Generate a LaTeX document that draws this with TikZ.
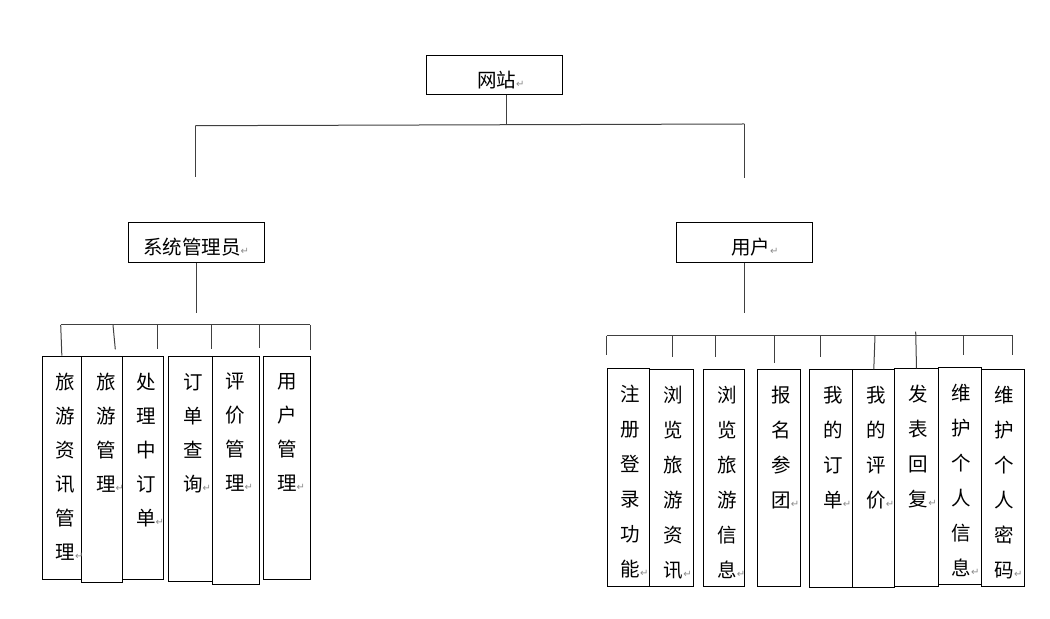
\documentclass[tikz,border=0pt]{standalone}
\usepackage{fontspec}
\usepackage{xcolor}
\usepackage{tikz}
\newfontfamily\cjk{Noto Sans CJK SC}
\newfontfamily\dejavu{DejaVu Sans}
\newcommand{\retmark}{{\dejavu\fontsize{5}{5}\selectfont\color{black!45}↵}}

\begin{document}
\begin{tikzpicture}[
            x = 0.5pt, y = -0.5pt, % one unit = one pixel, y goes down
            line width = 0.5pt, % thin lines
            mid/.style = {draw, inner sep=0pt, minimum width=68pt, minimum height=20pt,
                          text height=12pt, text depth=0pt, font=\cjk\fontsize{9.75}{12}\selectfont},
            leaf/.style = {draw, inner sep=0pt, anchor=north west},
            vlabel/.style = {inner sep=0pt, anchor=north west, align=left,
                             font=\cjk\fontsize{9.75}{#1}\selectfont},
            link/.style = {draw=black!75}
        ]
\useasboundingbox (0,0) rectangle (1050,619);

% top levels
\node[mid, minimum height=19.5pt] (site) at (494.7,75.5) {\hspace{6pt}网站\retmark};
\node[mid] (admin) at (196.15,242.3) {系统管理员\retmark};
\node[mid] (user) at (744.85,242.3) {\hspace{10pt}用户\retmark};

\coordinate (sb) at (506.7,125);
\coordinate (tl) at (195.3,125.7);
\coordinate (tr) at (744.3,124);
\coordinate (tlb) at (195.3,177.3);
\coordinate (trb) at (744.3,177.7);
\coordinate (ab) at (196.15,313);
\coordinate (ub) at (744.85,313);

 \path [link] (sb |- site.south) edge (sb);
 \path [link] (tl) edge (tr);
 \path [link] (tl) edge (tlb);
 \path [link] (tr) edge (trb);
 \path [link] (admin) edge (ab);
 \path [link] (user) edge (ub);

% admin side
\node[leaf, minimum width=19.65pt, minimum height=111.65pt] (a1) at (41.7,355.7) {};
\node[leaf, minimum width=20.5pt, minimum height=113pt] (a2) at (81,355.7) {};
\node[leaf, minimum width=20.5pt, minimum height=111.65pt] (a3) at (122,355.7) {};
\node[leaf, minimum width=22pt, minimum height=112.5pt] (a4) at (168,355.7) {};
\node[leaf, minimum width=23.5pt, minimum height=114.15pt] (a5) at (212,355.7) {};
\node[leaf, minimum width=23.5pt, minimum height=111.65pt] (a6) at (263,355.7) {};

\node[vlabel=17pt] (a1t) at ([shift={(13.5,17)}]a1.north west) {旅\\游\\资\\讯\\管\\理\retmark};
\node[vlabel=17pt] (a2t) at ([shift={(14.5,17)}]a2.north west) {旅\\游\\管\\理\retmark};
\node[vlabel=17pt] (a3t) at ([shift={(13.5,17)}]a3.north west) {处\\理\\中\\订\\单\retmark};
\node[vlabel=17pt] (a4t) at ([shift={(14.5,17)}]a4.north west) {订\\单\\查\\询\retmark};
\node[vlabel=17pt] (a5t) at ([shift={(12.5,17)}]a5.north west) {评\\价\\管\\理\retmark};
\node[vlabel=17pt] (a6t) at ([shift={(13.5,17)}]a6.north west) {用\\户\\管\\理\retmark};

\coordinate (lt1) at (60.7,325);
\coordinate (lt2) at (113,325);
\coordinate (lt3) at (157.7,325);
\coordinate (lt4) at (211.7,325);
\coordinate (lt5) at (259,325);
\coordinate (lt6) at (310,325);
\coordinate (le2) at (115.3,349.3);
\coordinate (le3) at (157.7,349.3);
\coordinate (le4) at (211.7,349.3);
\coordinate (le5) at (259,347.7);
\coordinate (le6) at (310,350);

 \path [link] (lt1) edge (lt6);
 \path [link] (lt1) edge (a1.north);
 \path [link] (lt2) edge (le2);
 \path [link] (lt3) edge (le3);
 \path [link] (lt4) edge (le4);
 \path [link] (lt5) edge (le5);
 \path [link] (lt6) edge (le6);

% user side
\node[leaf, minimum width=21.3pt, minimum height=108.7pt] (u1) at (606.7,368.3) {};
\node[leaf, minimum width=21.7pt, minimum height=108.2pt] (u2) at (649.3,369.3) {};
\node[leaf, minimum width=20.5pt, minimum height=108.2pt] (u3) at (703.3,369.3) {};
\node[leaf, minimum width=21.35pt, minimum height=108.2pt] (u4) at (757.3,369.3) {};
\node[leaf, minimum width=21.5pt, minimum height=108.7pt] (u5) at (809.3,369.3) {};
\node[leaf, minimum width=21pt, minimum height=108.7pt] (u6) at (852.3,369.3) {};
\node[leaf, minimum width=21.7pt, minimum height=108.7pt] (u7) at (894.3,368.3) {};
\node[leaf, minimum width=21.5pt, minimum height=108.8pt] (u8) at (937.7,366.7) {};
\node[leaf, minimum width=21.8pt, minimum height=108.2pt] (u9) at (980.7,369.3) {};

\node[vlabel=17.5pt] (u1t) at ([shift={(13.5,16.5)}]u1.north west) {注\\册\\登\\录\\功\\能\retmark};
\node[vlabel=17.5pt] (u2t) at ([shift={(14,16.5)}]u2.north west) {浏\\览\\旅\\游\\资\\讯\retmark};
\node[vlabel=17.5pt] (u3t) at ([shift={(13.5,16.5)}]u3.north west) {浏\\览\\旅\\游\\信\\息\retmark};
\node[vlabel=17.5pt] (u4t) at ([shift={(13.5,16.5)}]u4.north west) {报\\名\\参\\团\retmark};
\node[vlabel=17.5pt] (u5t) at ([shift={(13.5,16.5)}]u5.north west) {我\\的\\订\\单\retmark};
\node[vlabel=17.5pt] (u6t) at ([shift={(13.5,16.5)}]u6.north west) {我\\的\\评\\价\retmark};
\node[vlabel=17.5pt] (u7t) at ([shift={(14,16.5)}]u7.north west) {发\\表\\回\\复\retmark};
\node[vlabel=17.5pt] (u8t) at ([shift={(13.5,16.5)}]u8.north west) {维\\护\\个\\人\\信\\息\retmark};
\node[vlabel=17.5pt] (u9t) at ([shift={(13.5,16.5)}]u9.north west) {维\\护\\个\\人\\密\\码\retmark};

\coordinate (rt1) at (606.7,335.7);
\coordinate (rt2) at (672.3,335.7);
\coordinate (rt3) at (715,335.7);
\coordinate (rt4) at (774,335.7);
\coordinate (rt5) at (820.7,335.7);
\coordinate (rt6) at (875,335.7);
\coordinate (rt7) at (915.7,331.7);
\coordinate (rt8) at (963.3,335.7);
\coordinate (rt9) at (1012.7,335.7);
\coordinate (re1) at (606.7,355);
\coordinate (re2) at (672.3,356.7);
\coordinate (re3) at (715,357);
\coordinate (re4) at (774,363.3);
\coordinate (re5) at (820.7,357);
\coordinate (re8) at (963.3,355);
\coordinate (re9) at (1012.7,355);

 \path [link] (rt1) edge (rt9);
 \path [link] (rt1) edge (re1);
 \path [link] (rt2) edge (re2);
 \path [link] (rt3) edge (re3);
 \path [link] (rt4) edge (re4);
 \path [link] (rt5) edge (re5);
 \path [link] (rt6) edge (u6.north);
 \path [link] (rt7) edge (u7.north);
 \path [link] (rt8) edge (re8);
 \path [link] (rt9) edge (re9);
\end{tikzpicture}
\end{document}
